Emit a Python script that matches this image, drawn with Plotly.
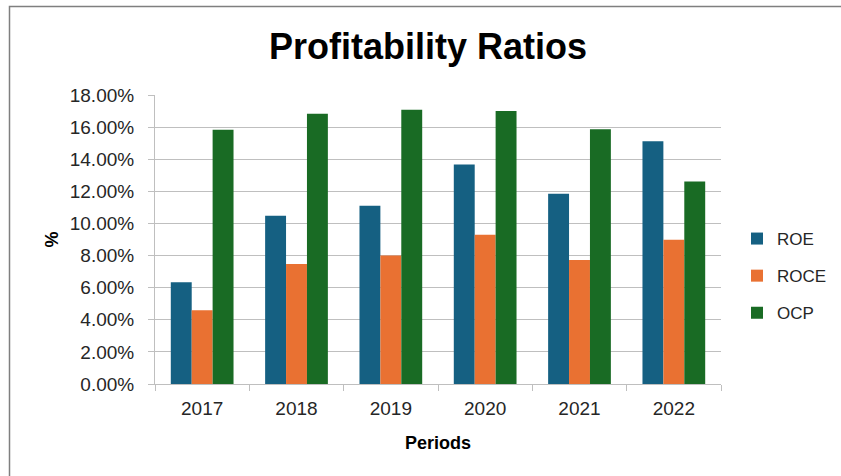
import plotly.graph_objects as go

periods = ["2017", "2018", "2019", "2020", "2021", "2022"]
roe = [6.33, 10.48, 11.10, 13.67, 11.85, 15.12]
roce = [4.59, 7.47, 8.01, 9.30, 7.73, 8.99]
ocp = [15.83, 16.83, 17.08, 17.00, 15.87, 12.62]
y_ticks = [0, 2, 4, 6, 8, 10, 12, 14, 16, 18]
y_tick_labels = [f"{v:.2f}%" for v in y_ticks]

series = [("ROE", roe, "#156082"), ("ROCE", roce, "#E97132"), ("OCP", ocp, "#196B24")]

FONT = "Liberation Sans, Arial, sans-serif"

fig = go.Figure()
for name, vals, color in series:
    fig.add_trace(go.Bar(name=name, x=periods, y=vals, marker_color=color,
                         marker_line_width=0, legendgroup=name))

W, H = 841, 476
L, R, T, B = 155, 120, 95, 92
pw, ph = W - L - R, H - T - B

def px_x(px):
    return (px - L) / pw

def px_y(py):
    return (H - B - py) / ph

fig.update_layout(
    width=W, height=H,
    margin=dict(l=L, r=R, t=T, b=B, autoexpand=False),
    paper_bgcolor="white", plot_bgcolor="white",
    barmode="group", bargap=0.335, bargroupgap=0,
    font=dict(family=FONT, size=18, color="#404040"),
    title=dict(text="<b>Profitability Ratios</b>", x=px_x(428), xref="paper", xanchor="center",
               y=1 - 46 / H, yanchor="middle",
               font=dict(family=FONT, size=36, color="#000000")),
    legend=dict(x=px_x(737), y=px_y(276), xanchor="left", yanchor="middle",
                xref="paper", yref="paper", tracegroupgap=12,
                font=dict(family=FONT, size=17, color="#262626"),
                bgcolor="rgba(0,0,0,0)"),
    xaxis=dict(showgrid=False, showline=True, linecolor="#BFBFBF", linewidth=1,
               ticks="outside", ticklen=6, tickcolor="#BFBFBF", tickson="boundaries",
               ticklabelstandoff=7,
               tickfont=dict(family=FONT, size=19, color="#262626"),
               title=dict(text="<b>Periods</b>", standoff=18,
                          font=dict(family=FONT, size=18, color="#000000"))),
    yaxis=dict(range=[0, 18], tickvals=y_ticks, ticktext=y_tick_labels,
               showgrid=True, gridcolor="#BFBFBF", gridwidth=1.3,
               showline=True, linecolor="#BFBFBF", linewidth=1,
               ticks="outside", ticklen=6, tickcolor="#BFBFBF",
               ticklabelstandoff=10,
               zeroline=False,
               tickfont=dict(family=FONT, size=19, color="#262626"),
               title=dict(text="<b>%</b>", standoff=6,
                          font=dict(family=FONT, size=18, color="#000000"))),
    shapes=[dict(type="rect", xref="paper", yref="paper",
                 x0=px_x(9.5), x1=px_x(900), y0=px_y(500), y1=px_y(6.5),
                 line=dict(color="#7F7F7F", width=1.5), fillcolor="rgba(0,0,0,0)",
                 layer="below")],
)

fig.write_html("out.html", config={"displayModeBar": False},
               post_script="document.body.style.margin='0';document.body.style.overflow='hidden';")
